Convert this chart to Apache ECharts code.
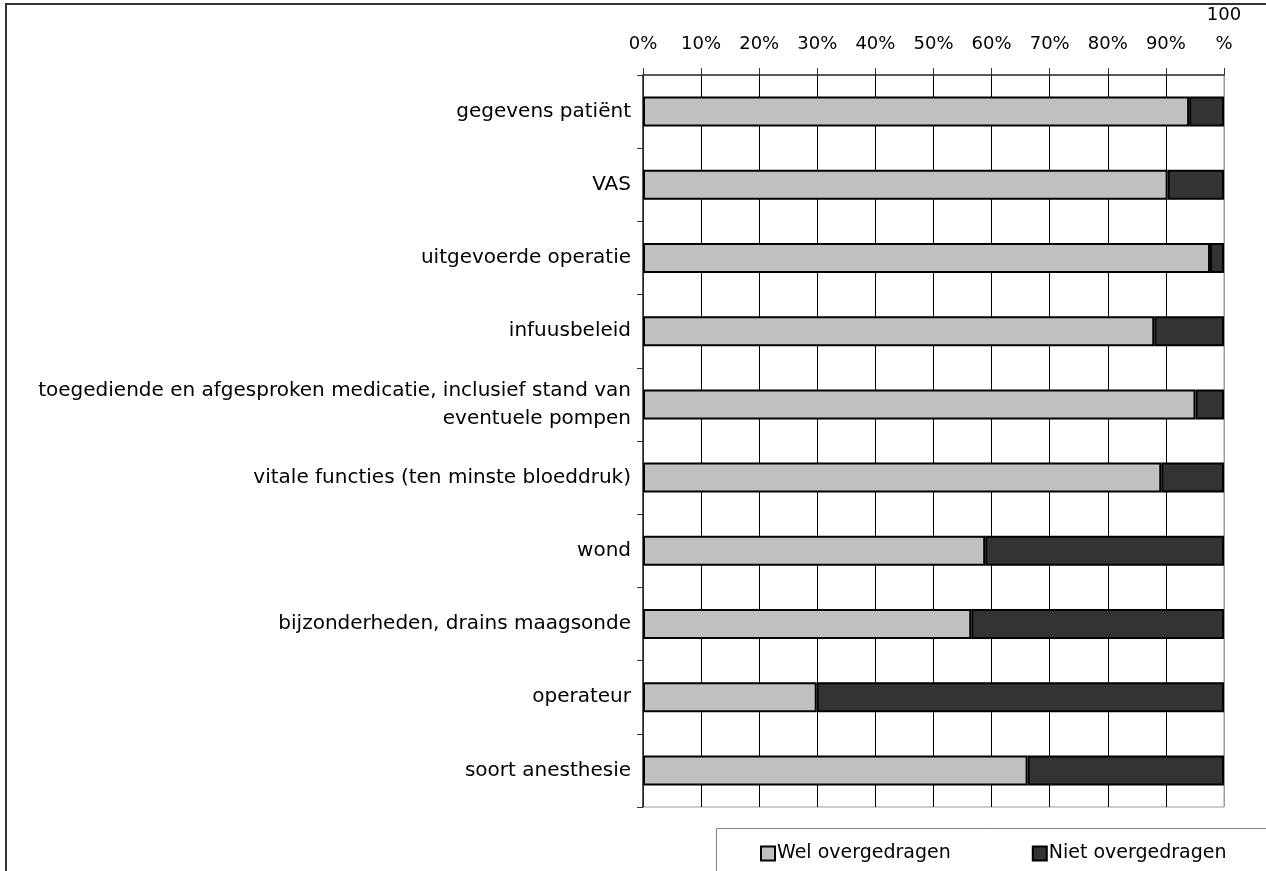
<!DOCTYPE html>
<html>
<head>
<meta charset="utf-8">
<script src="https://cdn.jsdelivr.net/npm/echarts@6/dist/echarts.min.js"></script>
<style>html,body{margin:0;padding:0;background:#fff}#c{width:1266px;height:871px}</style>
</head>
<body>
<div id="c"></div>
<script>
const categories = [
  'gegevens patiënt',
  'VAS',
  'uitgevoerde operatie',
  'infuusbeleid',
  'toegediende en afgesproken medicatie, inclusief stand van\neventuele pompen',
  'vitale functies (ten minste bloeddruk)',
  'wond',
  'bijzonderheden, drains maagsonde',
  'operateur',
  'soort anesthesie'
];
const welOvergedragen = [94.0, 90.3, 97.6, 88.0, 95.1, 89.2, 58.9, 56.5, 29.9, 66.2];
const nietOvergedragen = [6.0, 9.7, 2.4, 12.0, 4.9, 10.8, 41.1, 43.5, 70.1, 33.8];
const seriesNames = ['Wel overgedragen', 'Niet overgedragen'];

const FONT = 'DejaVu Sans';
const chart = echarts.init(document.getElementById('c'), null, {renderer: 'canvas'});
chart.setOption({
  animation: false,
  backgroundColor: '#fff',
  textStyle: {fontFamily: FONT, color: '#000'},
  grid: {left: 643, right: 42, top: 75, bottom: 64, show: true, borderColor: '#999', borderWidth: 1, backgroundColor: 'transparent'},
  xAxis: {
    type: 'value', position: 'top', min: 0, max: 100, interval: 10,
    axisLine: {show: true, lineStyle: {color: '#333', width: 1.5}},
    axisTick: {show: true, inside: false, length: 7, lineStyle: {color: '#333'}},
    splitLine: {show: true, lineStyle: {color: ['#000','#000','#000','#000','#000','#000','#000','#000','#000','#000','#999'], width: 1}},
    axisLabel: {
      fontFamily: FONT, fontSize: 18, color: '#000', margin: 16, lineHeight: 29,
      formatter: v => v === 100 ? '100\n%' : v + '%'
    }
  },
  yAxis: {
    type: 'category', inverse: true, data: categories,
    axisLine: {show: true, lineStyle: {color: '#333', width: 1.5}},
    axisTick: {show: true, length: 6, lineStyle: {color: '#333'}},
    splitLine: {show: false},
    axisLabel: {fontFamily: FONT, fontSize: 20, color: '#000', margin: 12, lineHeight: 28, align: 'right'}
  },
  legend: {
    left: 755, top: 839, itemWidth: 14, itemHeight: 14, itemGap: 81,
    icon: 'rect',
    itemStyle: {borderWidth: 2, borderColor: '#000'},
    textStyle: {fontFamily: FONT, fontSize: 19, color: '#000', padding: [0, 0, 0, -3]},
    data: seriesNames
  },
  graphic: [
    {type: 'rect', shape: {x: 6, y: 4, width: 1400, height: 1000}, style: {fill: 'none', stroke: '#333', lineWidth: 2}, silent: true, z: 100},
    {type: 'rect', shape: {x: 716.5, y: 828.5, width: 700, height: 100}, style: {fill: 'none', stroke: '#808080', lineWidth: 1}, silent: true, z: 100}
  ],
  series: [
    {name: seriesNames[0], type: 'bar', stack: 'total', data: welOvergedragen, barWidth: 30,
     itemStyle: {color: '#c0c0c0', borderColor: '#000', borderWidth: 2}},
    {name: seriesNames[1], type: 'bar', stack: 'total', data: nietOvergedragen, barWidth: 30,
     itemStyle: {color: '#333333', borderColor: '#000', borderWidth: 2}}
  ]
});
</script>
</body>
</html>
